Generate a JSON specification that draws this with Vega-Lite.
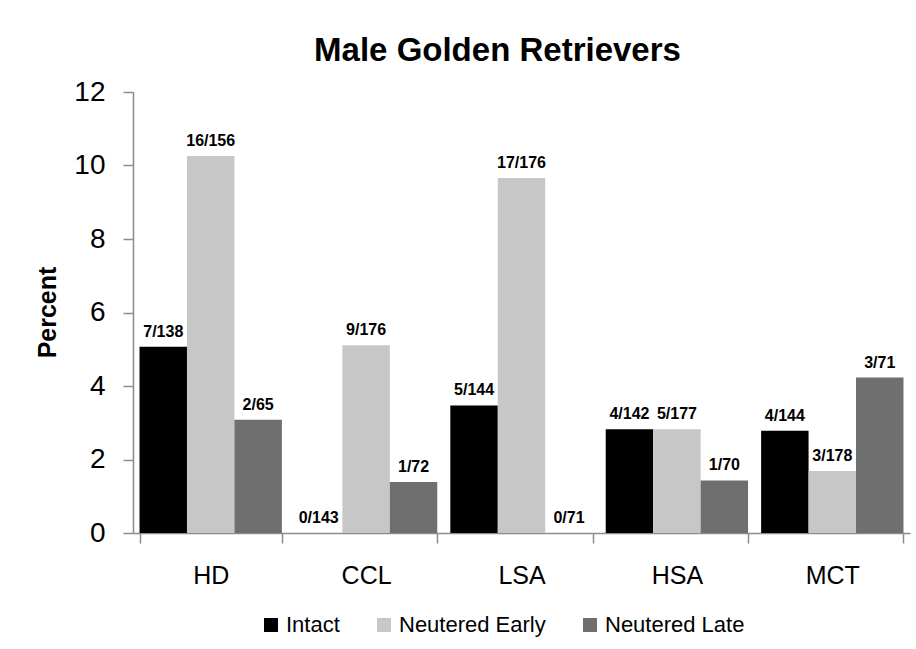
{
  "$schema": "https://vega.github.io/schema/vega-lite/v6.json",
  "width": 777,
  "height": 441,
  "autosize": {"type": "none"},
  "padding": {"left": 133, "top": 92, "right": 6, "bottom": 116},
  "background": "white",
  "title": {
    "text": "Male Golden Retrievers",
    "font": "Liberation Sans",
    "fontSize": 33,
    "fontWeight": "bold",
    "color": "#000000",
    "anchor": "middle",
    "frame": "group",
    "dx": -24,
    "baseline": "alphabetic",
    "offset": -16
  },
  "data": {
    "values": [
      {"disease": "HD", "group": "Intact", "pct": 5.07, "label": "7/138"},
      {"disease": "HD", "group": "Neutered Early", "pct": 10.26, "label": "16/156"},
      {"disease": "HD", "group": "Neutered Late", "pct": 3.08, "label": "2/65"},
      {"disease": "CCL", "group": "Intact", "pct": 0, "label": "0/143"},
      {"disease": "CCL", "group": "Neutered Early", "pct": 5.11, "label": "9/176"},
      {"disease": "CCL", "group": "Neutered Late", "pct": 1.39, "label": "1/72"},
      {"disease": "LSA", "group": "Intact", "pct": 3.47, "label": "5/144"},
      {"disease": "LSA", "group": "Neutered Early", "pct": 9.66, "label": "17/176"},
      {"disease": "LSA", "group": "Neutered Late", "pct": 0, "label": "0/71"},
      {"disease": "HSA", "group": "Intact", "pct": 2.82, "label": "4/142"},
      {"disease": "HSA", "group": "Neutered Early", "pct": 2.82, "label": "5/177"},
      {"disease": "HSA", "group": "Neutered Late", "pct": 1.43, "label": "1/70"},
      {"disease": "MCT", "group": "Intact", "pct": 2.78, "label": "4/144"},
      {"disease": "MCT", "group": "Neutered Early", "pct": 1.69, "label": "3/178"},
      {"disease": "MCT", "group": "Neutered Late", "pct": 4.23, "label": "3/71"}
    ]
  },
  "encoding": {
    "x": {
      "field": "disease",
      "type": "nominal",
      "sort": ["HD", "CCL", "LSA", "HSA", "MCT"],
      "scale": {"paddingInner": 0.084, "paddingOuter": 0.042},
      "axis": {
        "title": null,
        "labelAngle": 0,
        "labelFont": "Liberation Sans",
        "labelFontSize": 25,
        "labelColor": "#000000",
        "labelPadding": 20,
        "tickBand": "extent",
        "tickSize": 10,
        "tickColor": "#8c8c8c",
        "domainColor": "#8c8c8c",
        "tickWidth": 1.5,
        "domainWidth": 1.5
      }
    },
    "xOffset": {
      "field": "group",
      "type": "nominal",
      "sort": ["Intact", "Neutered Early", "Neutered Late"],
      "scale": {"paddingInner": 0, "paddingOuter": 0}
    },
    "y": {
      "field": "pct",
      "type": "quantitative",
      "scale": {"domain": [0, 12], "nice": false},
      "axis": {
        "title": "Percent",
        "titleFont": "Liberation Sans",
        "titleFontSize": 25,
        "titleFontWeight": "bold",
        "titleColor": "#000000",
        "titleX": -78,
        "titleY": 220,
        "titleBaseline": "alphabetic",
        "titleAlign": "center",
        "titleAngle": -90,
        "values": [0, 2, 4, 6, 8, 10, 12],
        "grid": false,
        "labelFont": "Liberation Sans",
        "labelFontSize": 28,
        "labelColor": "#000000",
        "labelPadding": 18,
        "tickSize": 10,
        "tickColor": "#8c8c8c",
        "domainColor": "#8c8c8c",
        "tickWidth": 1.5,
        "domainWidth": 1.5
      }
    }
  },
  "layer": [
    {
      "mark": {"type": "bar"},
      "encoding": {
        "color": {
          "field": "group",
          "type": "nominal",
          "sort": ["Intact", "Neutered Early", "Neutered Late"],
          "scale": {
            "domain": ["Intact", "Neutered Early", "Neutered Late"],
            "range": ["#000000", "#c7c7c7", "#6f6f6f"]
          },
          "legend": {
            "title": null,
            "orient": "none",
            "direction": "horizontal",
            "legendX": 127,
            "legendY": 522,
            "symbolType": "square",
            "symbolSize": 196,
            "symbolStrokeWidth": 0,
            "labelFont": "Liberation Sans",
            "labelFontSize": 22,
            "labelColor": "#000000",
            "labelOffset": 4,
            "columnPadding": 33
          }
        }
      }
    },
    {
      "mark": {
        "type": "text",
        "font": "Liberation Sans",
        "fontSize": 16,
        "fontWeight": "bold",
        "color": "#000000",
        "baseline": "alphabetic",
        "dy": -10
      },
      "encoding": {
        "text": {"field": "label", "type": "nominal"}
      }
    }
  ],
  "config": {
    "view": {"stroke": null}
  }
}
